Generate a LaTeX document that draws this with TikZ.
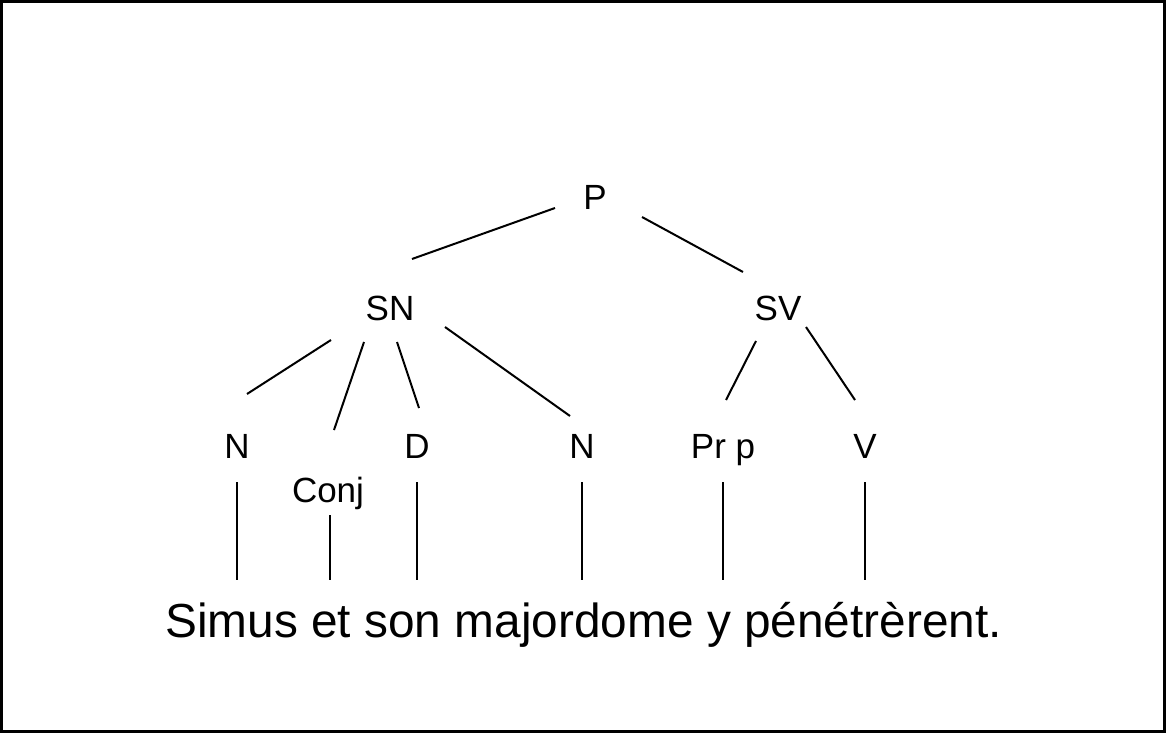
\documentclass[tikz,border=0pt]{standalone}
\usepackage{fontspec}
\setmainfont{Liberation Sans}
\usetikzlibrary{calc}

\begin{document}
\begin{tikzpicture}[x=1pt, y=-1pt,
      cat/.style = {anchor=base, inner sep=0pt, font=\fontsize{35}{40}\selectfont},
      phr/.style = {anchor=base west, inner sep=0pt, font=\fontsize{47.8}{55}\selectfont},
      br/.style  = {line width=2pt, line cap=butt} ]
    \useasboundingbox (0,0) rectangle (1166,733);
    \draw[line width=3pt] (1.5,1.5) rectangle (1164.5,731.5);
    % categories
    \node[cat] (P)    at (595,209) {P};
    \node[cat] (SN)   at (390,320) {SN};
    \node[cat] (SV)   at (778,320) {SV};
    \node[cat] (N1)   at (237,458) {N};
    \node[cat] (Conj) at (328,502) {Conj};
    \node[cat] (D)    at (417,458) {D};
    \node[cat] (N2)   at (582,458) {N};
    \node[cat] (Prp)  at (723,458) {Pr p};
    \node[cat] (V)    at (865,458) {V};
    \node[phr] (S)    at (165,637) {Simus et son majordome y pénétrèrent.};
    % branches
    \draw[br] ([shift={(-40,-1)}]P.base) -- ([shift={(22,-61)}]SN.base);
    \draw[br] ([shift={(47,8)}]P.base)   -- ([shift={(-35,-48)}]SV.base);
    \draw[br] ([shift={(-59,20)}]SN.base) -- ([shift={(10,-64)}]N1.base);
    \draw[br] ([shift={(-26,22)}]SN.base) -- ([shift={(6,-72)}]Conj.base);
    \draw[br] ([shift={(7,22)}]SN.base)   -- ([shift={(2,-50)}]D.base);
    \draw[br] ([shift={(55,7)}]SN.base)   -- ([shift={(-12,-42)}]N2.base);
    \draw[br] ([shift={(-22,21)}]SV.base) -- ([shift={(3,-58)}]Prp.base);
    \draw[br] ([shift={(28,7)}]SV.base)   -- ([shift={(-10,-58)}]V.base);
    % down to the words
    \foreach \c/\t/\d in {N1/24/0, Conj/13/2, D/24/0, N2/24/0, Prp/24/0, V/24/0}
      \draw[br] ([shift={(\d,\t)}]\c.base) -- ($(\c.base |- S.base)+(\d,-57)$);
\end{tikzpicture}
\end{document}
